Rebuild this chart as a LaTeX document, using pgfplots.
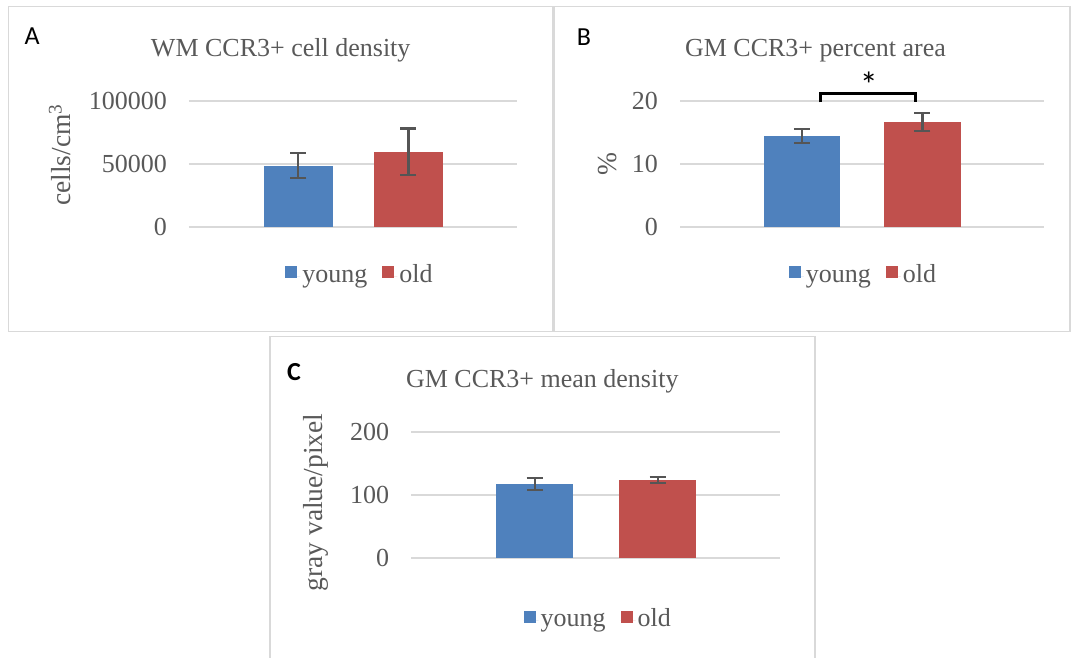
\documentclass[border=0pt]{standalone}
\usepackage{pgfplots}
\pgfplotsset{compat=1.18}
\usepackage{fontspec}
\setmainfont{Liberation Serif}
\newfontfamily\labelfont{Carlito}
\definecolor{barblue}{HTML}{4F81BD}
\definecolor{barred}{HTML}{C0504D}
\definecolor{txtgray}{HTML}{595959}
\definecolor{gridgray}{HTML}{D9D9D9}
\definecolor{errgray}{HTML}{555555}
\newcommand\fs{\fontsize{26}{31}\selectfont}

\pgfplotsset{
  panel/.style={
    scale only axis,
    axis line style={draw=none},
    ymin=0, xmin=-1, xmax=1,
    xtick=\empty,
    ymajorgrids,
    major grid style={gridgray, line width=1.8pt},
    major tick length=0pt,
    yticklabel style={font=\fs, text=txtgray, anchor=east, inner sep=0pt, xshift=-22pt},
    /pgf/number format/assume math mode=true,
    /pgf/number format/fixed,
    /pgf/number format/precision=0,
    /pgf/number format/1000 sep={},
    scaled y ticks=false,
    ylabel style={font=\fontsize{27.5}{32}\selectfont, text=txtgray, anchor=center},
    legend columns=2,
    legend style={draw=none, fill=none, font=\fs, text=txtgray, anchor=center,
      /tikz/every even column/.append style={column sep=13pt}, inner sep=0pt,
      nodes={text height=18pt, text depth=6pt}},
    legend cell align=left,
    legend image code/.code={\fill[##1, draw=none] (0pt,-2.3pt) rectangle (12pt,9.7pt); \path (0pt,0pt) -- (15pt,0pt);},
    clip=false,
  },
  barA/.style={ybar, bar width=0.42, bar shift=0pt, draw=none, fill=#1,
    error bars/.cd, y dir=both, y explicit,
    error bar style={line width=2.2pt, draw=errgray},
    error mark options={rotate=90, mark size=8pt, line width=2.2pt, draw=errgray}},
}

\begin{document}
\begin{tikzpicture}
\useasboundingbox (0pt,0pt) rectangle (1071pt,658pt);
% frames
\draw[gridgray, line width=1.5pt] (8.6pt,326.3pt) rectangle (552.9pt,651.3pt);
\draw[gridgray, line width=1.5pt] (553.8pt,326.3pt) rectangle (1070pt,651.3pt);
\draw[gridgray, line width=1.5pt] (270pt,-5pt) -- (270pt,321.3pt) -- (815pt,321.3pt) -- (815pt,-5pt);

% Panel A
\begin{axis}[panel, at={(189pt,430.7pt)}, anchor=south west,
  width=327.8pt, height=126.6pt, ymax=100000, ytick={0,50000,100000},
  ylabel={cells/cm\textsuperscript{3}},
  ylabel style={at={(axis description cs:-0.3935,0.571)}},
  legend style={at={(axis description cs:0.5217,-0.385)}}]
\addplot[barA=barblue] coordinates {(-0.333,48600) +- (0,9900)};
\addlegendentry{young}
\addplot[barA=barred] coordinates {(0.339,59500) +- (0,18500)};
\addlegendentry{old}
\end{axis}

% Panel B
\begin{axis}[panel, at={(680pt,430.7pt)}, anchor=south west,
  width=364pt, height=126.6pt, ymax=20, ytick={0,10,20},
  ylabel={\%},
  ylabel style={at={(axis description cs:-0.198,0.5)}},
  legend style={at={(axis description cs:0.504,-0.385)}}]
\addplot[barA=barblue] coordinates {(-0.33,14.42) +- (0,1.05)};
\addlegendentry{young}
\addplot[barA=barred] coordinates {(0.332,16.64) +- (0,1.45)};
\addlegendentry{old}
\draw[black, line width=2.5pt] (axis cs:-0.227,19.75) -- (axis cs:-0.227,21.17) -- (axis cs:0.295,21.17) -- (axis cs:0.295,19.75);
\node[font=\labelfont\fontsize{36}{40}\selectfont, text=black] at (axis cs:0.038,22.48) {*};
\end{axis}

% Panel C
\begin{axis}[panel, at={(411.4pt,100pt)}, anchor=south west,
  width=368.6pt, height=126.3pt, ymax=200, ytick={0,100,200},
  ylabel={gray value/pixel},
  ylabel style={at={(axis description cs:-0.259,0.44)}},
  legend style={at={(axis description cs:0.507,-0.498)}}]
\addplot[barA=barblue] coordinates {(-0.331,117.2) +- (0,9.3)};
\addlegendentry{young}
\addplot[barA=barred] coordinates {(0.336,123.3) +- (0,5)};
\addlegendentry{old}
\end{axis}

% titles and panel letters
\node[font=\fs, text=txtgray, anchor=base] at (280.7pt,601.3pt) {WM CCR3+ cell density};
\node[font=\fs, text=txtgray, anchor=base] at (815.5pt,601.3pt) {GM CCR3+ percent area};
\node[font=\fs, text=txtgray, anchor=base] at (542.3pt,270.7pt) {GM CCR3+ mean density};
\node[font=\labelfont\fs, anchor=base west, inner sep=0pt] at (24.3pt,613.7pt) {A};
\node[font=\labelfont\fs, anchor=base west, inner sep=0pt] at (576.7pt,612pt) {B};
\node[font=\labelfont\bfseries\fs, anchor=base west, inner sep=0pt] at (287pt,277.3pt) {C};
\end{tikzpicture}
\end{document}
